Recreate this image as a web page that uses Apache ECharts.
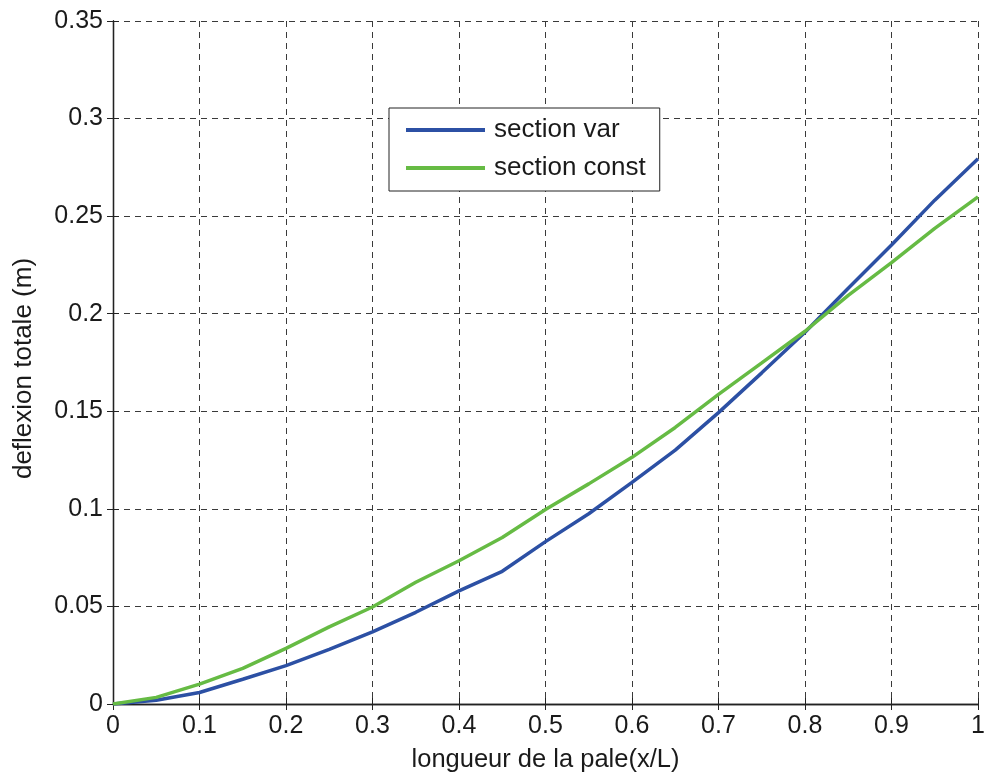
<!DOCTYPE html>
<html>
<head>
<meta charset="utf-8">
<script src="https://cdn.jsdelivr.net/npm/echarts@6/dist/echarts.min.js"></script>
<style>
  html, body { margin: 0; padding: 0; background: #fff; }
  #chart { width: 988px; height: 778px; }
</style>
</head>
<body>
<div id="chart"></div>
<script>
// position along the blade (x/L)
var xPos = [0, 0.05, 0.1, 0.15, 0.2, 0.25, 0.3, 0.35, 0.4, 0.45, 0.5,
            0.55, 0.6, 0.65, 0.7, 0.75, 0.8, 0.85, 0.9, 0.95, 1];
// total deflection (m)
var sectionVar = [0, 0.0019, 0.0059, 0.0127, 0.0197, 0.028, 0.037, 0.047, 0.058, 0.068, 0.0832,
                  0.0975, 0.1136, 0.1301, 0.1493, 0.1697, 0.1905, 0.2131, 0.2352, 0.2582, 0.2794];
var sectionConst = [0, 0.0034, 0.0102, 0.0183, 0.0285, 0.0395, 0.0497, 0.0624, 0.0734, 0.0853, 0.0997,
                    0.1128, 0.1264, 0.1417, 0.1587, 0.1748, 0.191, 0.2094, 0.2262, 0.2437, 0.2599];
var seriesNames = ['section var', 'section const'];

function pairs(xs, ys) {
    var out = [];
    for (var i = 0; i < xs.length; i++) out.push([xs[i], ys[i]]);
    return out;
}

var font = 'Liberation Sans, Arial, sans-serif';
var txt = '#1a1a1a';
var gridLine = { show: true, lineStyle: { color: '#3a3a3a', width: 1, type: [6, 5] } };
var edge = { show: true, lineStyle: { color: '#222', width: 1.3 } };
var tickIn = { show: true, inside: true, length: 6, lineStyle: { color: '#222' } };

var myChart = echarts.init(document.getElementById('chart'), null, { renderer: 'canvas' });
myChart.setOption({
    backgroundColor: '#fff',
    animation: false,
    grid: { left: 113, right: 10, top: 21, bottom: 72 },
    legend: {
        data: seriesNames,
        orient: 'vertical',
        left: 389,
        top: 108,
        padding: [9, 14, 10, 17],
        icon: 'rect',
        itemWidth: 79,
        itemHeight: 4,
        itemGap: 12,
        borderColor: '#222',
        borderWidth: 1,
        backgroundColor: '#fff',
        textStyle: { fontFamily: font, fontSize: 26, lineHeight: 26, color: txt, padding: [0, 0, 0, 4] }
    },
    xAxis: [{
        type: 'value', min: 0, max: 1, interval: 0.1,
        name: 'longueur de la pale(x/L)', nameLocation: 'middle', nameGap: 43,
        nameTextStyle: { fontFamily: font, fontSize: 25.5, color: txt },
        axisLine: edge, axisTick: tickIn, splitLine: gridLine,
        axisLabel: { fontFamily: font, fontSize: 25, color: txt, margin: 10 }
    }, {
        type: 'value', min: 0, max: 1, interval: 0.1, position: 'top',
        axisLine: edge, axisTick: tickIn, splitLine: { show: false },
        axisLabel: { show: false }
    }],
    yAxis: [{
        type: 'value', min: 0, max: 0.35, interval: 0.05,
        name: 'deflexion totale (m)', nameLocation: 'middle', nameGap: 76,
        nameTextStyle: { fontFamily: font, fontSize: 26, color: txt, padding: [0, 12, 0, 0] },
        axisLine: edge, axisTick: tickIn, splitLine: gridLine,
        axisLabel: { fontFamily: font, fontSize: 25, color: txt, margin: 10 }
    }, {
        type: 'value', min: 0, max: 0.35, interval: 0.05, position: 'right',
        axisLine: edge, axisTick: tickIn, splitLine: { show: false },
        axisLabel: { show: false }
    }],
    series: [{
        name: seriesNames[0],
        type: 'line',
        data: pairs(xPos, sectionVar),
        symbol: 'none',
        lineStyle: { color: '#2c50a4', width: 3.5 },
        itemStyle: { color: '#2c50a4' }
    }, {
        name: seriesNames[1],
        type: 'line',
        data: pairs(xPos, sectionConst),
        symbol: 'none',
        lineStyle: { color: '#66bb44', width: 3.5 },
        itemStyle: { color: '#66bb44' }
    }]
});
</script>
</body>
</html>
